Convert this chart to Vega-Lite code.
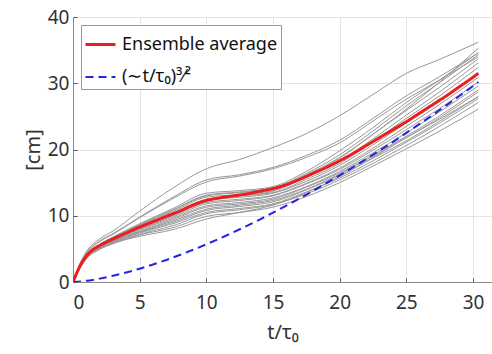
{
  "$schema": "https://vega.github.io/schema/vega-lite/v6.json",
  "width": 419,
  "height": 265,
  "autosize": {"type": "none"},
  "padding": {"left": 73, "top": 17, "right": 0, "bottom": 72},
  "background": "white",
  "config": {
    "view": {"stroke": "#8a8a8a", "strokeWidth": 1},
    "font": "Noto Sans",
    "axis": {
      "grid": true,
      "gridColor": "#e4e4e4",
      "gridWidth": 1,
      "domainColor": "#8a8a8a",
      "tickColor": "#555555",
      "tickSize": -4,
      "labelFont": "Noto Sans",
      "labelFontSize": 19,
      "labelColor": "#333333",
      "titleFont": "Noto Sans",
      "titleFontSize": 20,
      "titleFontWeight": "normal",
      "titleColor": "#333333"
    },
    "legend": {
      "orient": "none",
      "legendX": 8,
      "legendY": 8,
      "strokeColor": "#999999",
      "fillColor": "white",
      "padding": 3,
      "labelFont": "Noto Sans",
      "labelFontSize": 18,
      "labelColor": "#111111",
      "symbolType": "stroke",
      "symbolSize": 900,
      "symbolStrokeWidth": 2.5,
      "labelOffset": 5,
      "rowPadding": 7,
      "labelLimit": 300
    }
  },
  "datasets": {
    "runs": [
      {"t": 0, "r1": 0, "r2": 0, "r3": 0, "r4": 0, "r5": 0, "r6": 0, "r7": 0, "r8": 0, "r9": 0, "r10": 0, "r11": 0, "r12": 0, "r13": 0, "r14": 0, "r15": 0, "r16": 0, "r17": 0, "r18": 0, "r19": 0, "r20": 0},
      {"t": 0.5, "r1": 2.7, "r2": 2.6, "r3": 2.6, "r4": 2.4, "r5": 2.4, "r6": 2.4, "r7": 2.3, "r8": 2.3, "r9": 2.3, "r10": 2.3, "r11": 2.2, "r12": 2.2, "r13": 2.2, "r14": 2.2, "r15": 2.2, "r16": 2.1, "r17": 2.1, "r18": 2.1, "r19": 2.0, "r20": 2.3},
      {"t": 1, "r1": 4.6, "r2": 4.4, "r3": 4.3, "r4": 4.1, "r5": 4.0, "r6": 4.0, "r7": 4.0, "r8": 3.9, "r9": 3.9, "r10": 3.8, "r11": 3.8, "r12": 3.8, "r13": 3.7, "r14": 3.7, "r15": 3.6, "r16": 3.6, "r17": 3.6, "r18": 3.5, "r19": 3.5, "r20": 3.9},
      {"t": 2, "r1": 6.5, "r2": 6.2, "r3": 6.1, "r4": 5.7, "r5": 5.7, "r6": 5.6, "r7": 5.6, "r8": 5.5, "r9": 5.5, "r10": 5.4, "r11": 5.4, "r12": 5.3, "r13": 5.3, "r14": 5.2, "r15": 5.1, "r16": 5.1, "r17": 5.0, "r18": 5.0, "r19": 4.9, "r20": 5.5},
      {"t": 3, "r1": 7.7, "r2": 7.3, "r3": 7.2, "r4": 6.8, "r5": 6.7, "r6": 6.7, "r7": 6.6, "r8": 6.5, "r9": 6.5, "r10": 6.4, "r11": 6.3, "r12": 6.3, "r13": 6.2, "r14": 6.1, "r15": 6.1, "r16": 6.0, "r17": 5.9, "r18": 5.8, "r19": 5.8, "r20": 6.5},
      {"t": 5, "r1": 10.7, "r2": 9.8, "r3": 9.7, "r4": 8.8, "r5": 8.7, "r6": 8.6, "r7": 8.5, "r8": 8.4, "r9": 8.2, "r10": 8.1, "r11": 8.0, "r12": 7.9, "r13": 7.7, "r14": 7.6, "r15": 7.5, "r16": 7.4, "r17": 7.2, "r18": 7.1, "r19": 6.9, "r20": 8.3},
      {"t": 7.5, "r1": 14.2, "r2": 12.8, "r3": 12.6, "r4": 11.1, "r5": 10.9, "r6": 10.8, "r7": 10.6, "r8": 10.4, "r9": 10.2, "r10": 10.0, "r11": 9.8, "r12": 9.6, "r13": 9.4, "r14": 9.2, "r15": 9.0, "r16": 8.8, "r17": 8.5, "r18": 8.2, "r19": 7.9, "r20": 10.3},
      {"t": 10, "r1": 17.1, "r2": 15.4, "r3": 15.1, "r4": 13.4, "r5": 13.1, "r6": 13.0, "r7": 12.8, "r8": 12.5, "r9": 12.3, "r10": 12.0, "r11": 11.8, "r12": 11.5, "r13": 11.3, "r14": 11.0, "r15": 10.8, "r16": 10.5, "r17": 10.3, "r18": 9.9, "r19": 9.5, "r20": 12.4},
      {"t": 12.5, "r1": 18.5, "r2": 16.2, "r3": 16.0, "r4": 13.8, "r5": 13.6, "r6": 13.5, "r7": 13.2, "r8": 13.0, "r9": 12.8, "r10": 12.5, "r11": 12.3, "r12": 12.0, "r13": 11.8, "r14": 11.6, "r15": 11.4, "r16": 11.1, "r17": 10.9, "r18": 10.5, "r19": 10.5, "r20": 13.0},
      {"t": 15, "r1": 20.3, "r2": 17.3, "r3": 17.1, "r4": 14.4, "r5": 14.2, "r6": 14.1, "r7": 13.8, "r8": 13.5, "r9": 13.4, "r10": 13.1, "r11": 13.0, "r12": 12.7, "r13": 12.5, "r14": 12.3, "r15": 12.1, "r16": 11.8, "r17": 11.7, "r18": 11.3, "r19": 11.6, "r20": 13.7},
      {"t": 17.5, "r1": 22.4, "r2": 19.1, "r3": 18.8, "r4": 16.7, "r5": 16.4, "r6": 16.2, "r7": 15.8, "r8": 15.5, "r9": 15.2, "r10": 14.9, "r11": 14.8, "r12": 14.4, "r13": 14.3, "r14": 14.0, "r15": 13.9, "r16": 13.6, "r17": 13.3, "r18": 12.9, "r19": 13.5, "r20": 15.9},
      {"t": 20, "r1": 25.1, "r2": 21.4, "r3": 21.0, "r4": 19.8, "r5": 19.2, "r6": 18.8, "r7": 18.3, "r8": 17.9, "r9": 17.6, "r10": 17.2, "r11": 17.0, "r12": 16.7, "r13": 16.5, "r14": 16.3, "r15": 16.1, "r16": 15.7, "r17": 15.4, "r18": 15.0, "r19": 15.9, "r20": 18.7},
      {"t": 22.5, "r1": 28.3, "r2": 24.7, "r3": 24.3, "r4": 23.3, "r5": 22.8, "r6": 22.3, "r7": 21.6, "r8": 21.2, "r9": 20.7, "r10": 20.2, "r11": 19.9, "r12": 19.5, "r13": 19.2, "r14": 19.0, "r15": 18.7, "r16": 18.3, "r17": 17.9, "r18": 17.5, "r19": 18.8, "r20": 22.3},
      {"t": 25, "r1": 31.5, "r2": 28.1, "r3": 27.6, "r4": 27.1, "r5": 26.6, "r6": 25.9, "r7": 25.2, "r8": 24.7, "r9": 24.0, "r10": 23.5, "r11": 23.0, "r12": 22.5, "r13": 22.0, "r14": 21.8, "r15": 21.3, "r16": 21.1, "r17": 20.6, "r18": 20.1, "r19": 21.8, "r20": 26.1},
      {"t": 27.5, "r1": 33.6, "r2": 31.0, "r3": 30.5, "r4": 30.5, "r5": 30.1, "r6": 29.4, "r7": 28.7, "r8": 28.1, "r9": 27.3, "r10": 26.8, "r11": 26.2, "r12": 25.7, "r13": 25.1, "r14": 24.8, "r15": 24.3, "r16": 24.0, "r17": 23.5, "r18": 22.8, "r19": 24.6, "r20": 30.2},
      {"t": 30.4, "r1": 36.2, "r2": 34.6, "r3": 34.0, "r4": 34.6, "r5": 34.3, "r6": 33.7, "r7": 33.1, "r8": 32.4, "r9": 31.5, "r10": 30.9, "r11": 30.2, "r12": 29.6, "r13": 29.0, "r14": 28.7, "r15": 28.0, "r16": 27.7, "r17": 27.1, "r18": 26.1, "r19": 28.0, "r20": 35.3}
    ],
    "curves": [
      {"s": "Ensemble average", "t": 0, "y": 0},
      {"s": "Ensemble average", "t": 0.5, "y": 2.3},
      {"s": "Ensemble average", "t": 1, "y": 3.9},
      {"s": "Ensemble average", "t": 1.5, "y": 4.9},
      {"s": "Ensemble average", "t": 2, "y": 5.5},
      {"s": "Ensemble average", "t": 3, "y": 6.5},
      {"s": "Ensemble average", "t": 4, "y": 7.4},
      {"s": "Ensemble average", "t": 5, "y": 8.3},
      {"s": "Ensemble average", "t": 6, "y": 9.1},
      {"s": "Ensemble average", "t": 7, "y": 9.9},
      {"s": "Ensemble average", "t": 8, "y": 10.7},
      {"s": "Ensemble average", "t": 9, "y": 11.6},
      {"s": "Ensemble average", "t": 10, "y": 12.3},
      {"s": "Ensemble average", "t": 11, "y": 12.7},
      {"s": "Ensemble average", "t": 12, "y": 13.0},
      {"s": "Ensemble average", "t": 13, "y": 13.3},
      {"s": "Ensemble average", "t": 14, "y": 13.7},
      {"s": "Ensemble average", "t": 15, "y": 14.1},
      {"s": "Ensemble average", "t": 16, "y": 14.7},
      {"s": "Ensemble average", "t": 17, "y": 15.5},
      {"s": "Ensemble average", "t": 18, "y": 16.4},
      {"s": "Ensemble average", "t": 19, "y": 17.3},
      {"s": "Ensemble average", "t": 20, "y": 18.3},
      {"s": "Ensemble average", "t": 21, "y": 19.4},
      {"s": "Ensemble average", "t": 22, "y": 20.6},
      {"s": "Ensemble average", "t": 23, "y": 21.8},
      {"s": "Ensemble average", "t": 24, "y": 23.0},
      {"s": "Ensemble average", "t": 25, "y": 24.2},
      {"s": "Ensemble average", "t": 26, "y": 25.5},
      {"s": "Ensemble average", "t": 27, "y": 26.8},
      {"s": "Ensemble average", "t": 28, "y": 28.1},
      {"s": "Ensemble average", "t": 29, "y": 29.5},
      {"s": "Ensemble average", "t": 30, "y": 30.9},
      {"s": "Ensemble average", "t": 30.4, "y": 31.5},
      {"s": "(∼t/τ₀)³⁄²", "t": 0, "y": 0},
      {"s": "(∼t/τ₀)³⁄²", "t": 1, "y": 0.18},
      {"s": "(∼t/τ₀)³⁄²", "t": 2, "y": 0.51},
      {"s": "(∼t/τ₀)³⁄²", "t": 3, "y": 0.94},
      {"s": "(∼t/τ₀)³⁄²", "t": 4, "y": 1.44},
      {"s": "(∼t/τ₀)³⁄²", "t": 5, "y": 2.01},
      {"s": "(∼t/τ₀)³⁄²", "t": 6, "y": 2.65},
      {"s": "(∼t/τ₀)³⁄²", "t": 7, "y": 3.33},
      {"s": "(∼t/τ₀)³⁄²", "t": 8, "y": 4.07},
      {"s": "(∼t/τ₀)³⁄²", "t": 9, "y": 4.86},
      {"s": "(∼t/τ₀)³⁄²", "t": 10, "y": 5.69},
      {"s": "(∼t/τ₀)³⁄²", "t": 11, "y": 6.57},
      {"s": "(∼t/τ₀)³⁄²", "t": 12, "y": 7.48},
      {"s": "(∼t/τ₀)³⁄²", "t": 13, "y": 8.44},
      {"s": "(∼t/τ₀)³⁄²", "t": 14, "y": 9.43},
      {"s": "(∼t/τ₀)³⁄²", "t": 15, "y": 10.46},
      {"s": "(∼t/τ₀)³⁄²", "t": 16, "y": 11.52},
      {"s": "(∼t/τ₀)³⁄²", "t": 17, "y": 12.62},
      {"s": "(∼t/τ₀)³⁄²", "t": 18, "y": 13.75},
      {"s": "(∼t/τ₀)³⁄²", "t": 19, "y": 14.91},
      {"s": "(∼t/τ₀)³⁄²", "t": 20, "y": 16.10},
      {"s": "(∼t/τ₀)³⁄²", "t": 21, "y": 17.32},
      {"s": "(∼t/τ₀)³⁄²", "t": 22, "y": 18.57},
      {"s": "(∼t/τ₀)³⁄²", "t": 23, "y": 19.85},
      {"s": "(∼t/τ₀)³⁄²", "t": 24, "y": 21.16},
      {"s": "(∼t/τ₀)³⁄²", "t": 25, "y": 22.5},
      {"s": "(∼t/τ₀)³⁄²", "t": 26, "y": 23.86},
      {"s": "(∼t/τ₀)³⁄²", "t": 27, "y": 25.25},
      {"s": "(∼t/τ₀)³⁄²", "t": 28, "y": 26.67},
      {"s": "(∼t/τ₀)³⁄²", "t": 29, "y": 28.11},
      {"s": "(∼t/τ₀)³⁄²", "t": 30, "y": 29.58},
      {"s": "(∼t/τ₀)³⁄²", "t": 30.4, "y": 30.17}
    ]
  },
  "layer": [
    {
      "data": {"name": "runs"},
      "transform": [
        {"fold": ["r1", "r2", "r3", "r4", "r5", "r6", "r7", "r8", "r9", "r10", "r11", "r12", "r13", "r14", "r15", "r16", "r17", "r18", "r19", "r20"], "as": ["run", "y"]}
      ],
      "mark": {"type": "line", "color": "#989898", "strokeWidth": 1, "interpolate": "monotone", "clip": true},
      "encoding": {
        "x": {
          "field": "t", "type": "quantitative",
          "scale": {"domain": [0, 31.425], "nice": false, "zero": false},
          "axis": {"values": [0, 5, 10, 15, 20, 25, 30], "title": "t/τ₀", "labelPadding": 15, "titlePadding": 10, "format": "d"}
        },
        "y": {
          "field": "y", "type": "quantitative",
          "scale": {"domain": [0, 40], "nice": false},
          "axis": {"values": [0, 10, 20, 30, 40], "title": "[cm]", "labelPadding": 8, "titlePadding": 4, "format": "d"}
        },
        "detail": {"field": "run", "type": "nominal"}
      }
    },
    {
      "data": {"name": "curves"},
      "mark": {"type": "line", "interpolate": "monotone", "clip": true},
      "encoding": {
        "x": {"field": "t", "type": "quantitative"},
        "y": {"field": "y", "type": "quantitative"},
        "color": {
          "field": "s", "type": "nominal",
          "scale": {"domain": ["Ensemble average", "(∼t/τ₀)³⁄²"], "range": ["#ee1c1c", "#2424e0"]},
          "legend": {"title": null}
        },
        "strokeDash": {
          "field": "s", "type": "nominal",
          "scale": {"domain": ["Ensemble average", "(∼t/τ₀)³⁄²"], "range": [[1, 0], [8, 5]]},
          "legend": {"title": null}
        },
        "strokeWidth": {
          "field": "s", "type": "nominal",
          "scale": {"domain": ["Ensemble average", "(∼t/τ₀)³⁄²"], "range": [3, 2]},
          "legend": null
        }
      }
    }
  ]
}
